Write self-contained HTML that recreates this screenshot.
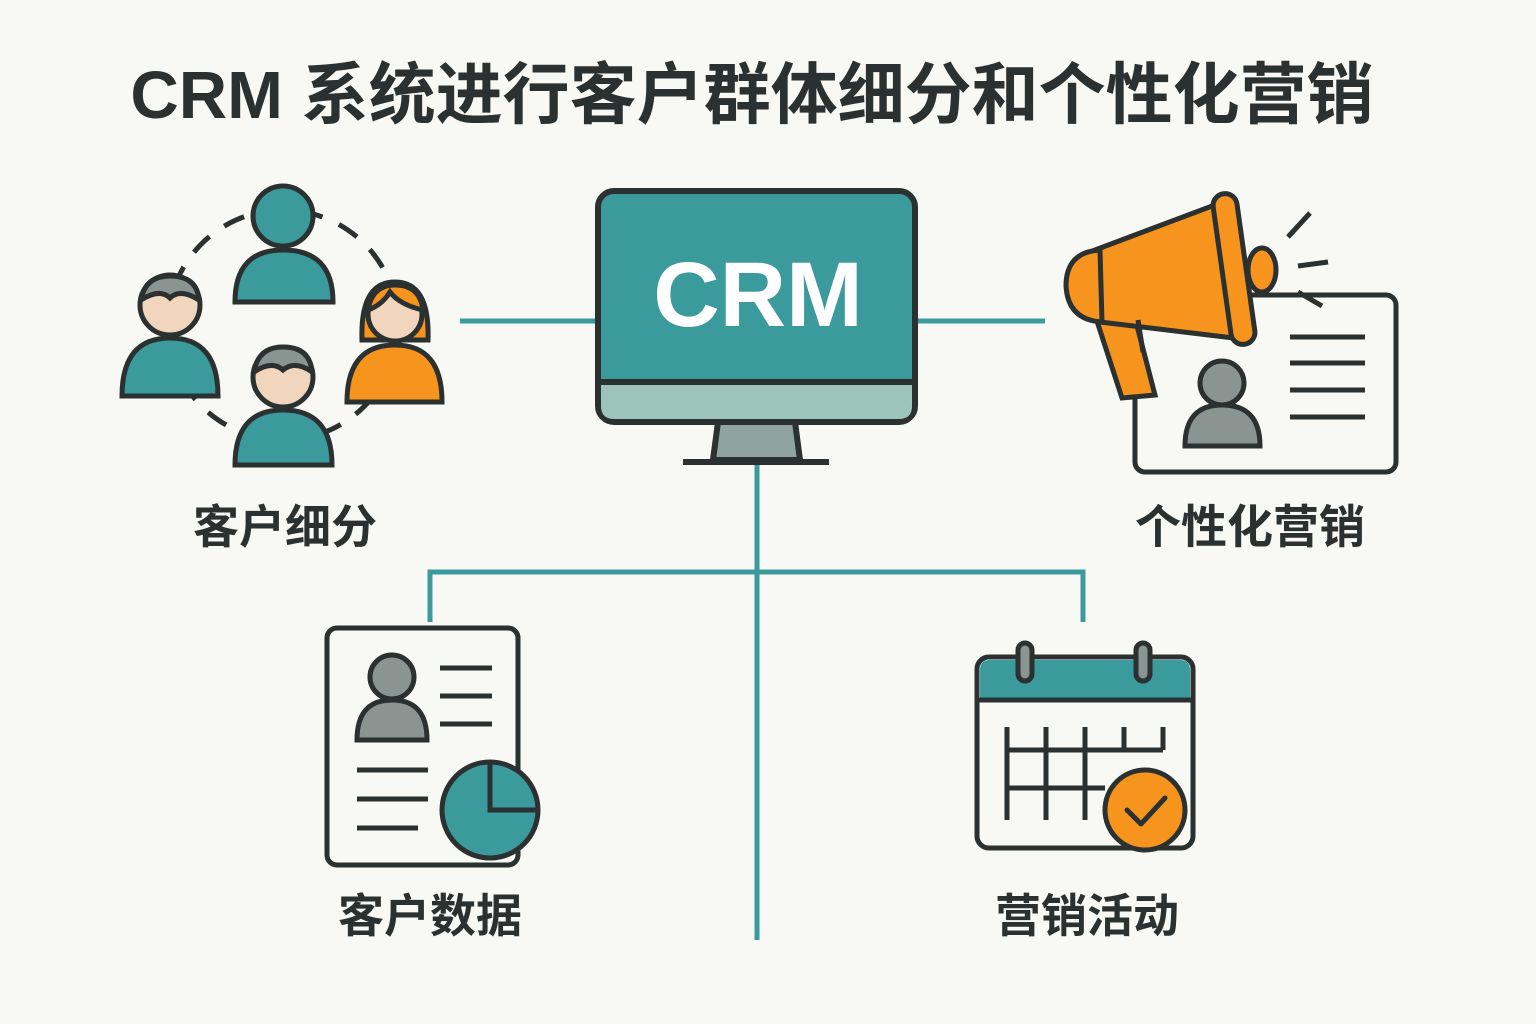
<!DOCTYPE html>
<html><head><meta charset="utf-8"><style>
html,body{margin:0;padding:0;background:#f8f8f4;}
svg{display:block}
text{font-family:"Liberation Sans","Noto Sans CJK SC",sans-serif;font-weight:bold;fill:#2b3030}
</style></head><body>
<svg width="1536" height="1024" viewBox="0 0 1536 1024" xmlns="http://www.w3.org/2000/svg">
<rect width="1536" height="1024" fill="#f8f8f4"/>
<text x="752" y="118" font-size="67" text-anchor="middle">CRM 系统进行客户群体细分和个性化营销</text>

<g stroke="#3a9a9c" stroke-width="5" fill="none">
<line x1="460" y1="321" x2="598" y2="321"/>
<line x1="915" y1="321" x2="1045" y2="321"/>
<line x1="757" y1="462" x2="757" y2="940"/>
<polyline points="430,622 430,572 1083,572 1083,622"/>
</g>

<!-- monitor -->
<g stroke="#2b3030" stroke-width="6">
<path d="M718 422 L795 422 L800 460 L713 460 Z" fill="#8fa3a0"/>
<line x1="683" y1="462" x2="829" y2="462"/>
<rect x="598" y="191" width="317" height="231" rx="16" fill="#3a9a9c"/>
<path d="M601 382 H912 V406 Q912 419 899 419 H614 Q601 419 601 406 Z" fill="#9cc4b8" stroke="none"/>
<line x1="601" y1="382" x2="912" y2="382"/>
</g>
<text x="758" y="326" font-size="92" text-anchor="middle" style="fill:#fff">CRM</text>

<!-- customer segmentation -->
<g stroke="#2b3030" stroke-width="5">
<circle cx="283" cy="325" r="115" fill="none" stroke-dasharray="22 18"/>
</g>
<g stroke="#2b3030" stroke-width="5">
<path d="M235 302 Q235 250 283 250 Q333 250 333 302 Z" fill="#3a9a9c"/>
<circle cx="283" cy="216" r="30" fill="#3a9a9c"/>
<path d="M122 396 Q122 338 170 338 Q218 338 218 396 Z" fill="#3a9a9c"/>
<circle cx="170" cy="305" r="30" fill="#f1d5bd"/>
<path d="M141 300 Q145 276 170 276 Q197 276 199 300 Q180 288 170 298 Q160 288 141 300 Z" fill="#8a9592"/>
<path d="M235 465 Q235 410 283 410 Q332 410 332 465 Z" fill="#3a9a9c"/>
<circle cx="283" cy="377" r="30" fill="#f1d5bd"/>
<path d="M254 372 Q258 347 283 347 Q310 347 312 372 Q295 360 283 370 Q272 360 254 372 Z" fill="#8a9592"/>
<path d="M347 402 Q347 345 395 345 Q442 345 442 402 Z" fill="#f7941d"/>
<path d="M362 340 Q360 282 395 282 Q430 282 428 340 Z" fill="#f7941d"/>
<circle cx="395" cy="314" r="27" fill="#f1d5bd"/>
<path d="M368 310 Q372 285 395 285 Q420 285 423 310 Q400 305 390 292 Q382 305 368 310 Z" fill="#f7941d"/>
</g>
<text x="285" y="543" font-size="46" text-anchor="middle">客户细分</text>

<!-- megaphone + card -->
<g stroke="#2b3030" stroke-width="5">
<rect x="1135" y="295" width="261" height="177" rx="10" fill="#f8f8f4"/>
<path d="M1185 446 Q1185 405 1222 405 Q1260 405 1260 446 Z" fill="#8a9592"/>
<circle cx="1222" cy="383" r="22" fill="#8a9592"/>
<g fill="none">
<line x1="1290" y1="337" x2="1365" y2="337"/>
<line x1="1290" y1="363" x2="1365" y2="363"/>
<line x1="1290" y1="390" x2="1365" y2="390"/>
<line x1="1290" y1="417" x2="1365" y2="417"/>
<line x1="1288" y1="237" x2="1310" y2="213"/>
<line x1="1298" y1="266" x2="1328" y2="262"/>
<line x1="1298" y1="292" x2="1322" y2="306"/>
</g>
<path d="M1095 315 L1135 318 L1155 395 L1122 398 Z" fill="#f7941d"/>
<path d="M1095 250 L1228 200 L1250 340 L1100 322 Z" fill="#f7941d"/>
<path d="M1100 250 Q1066 252 1066 286 Q1068 320 1102 322 Z" fill="#f7941d"/>
<rect x="1222" y="193" width="24" height="152" rx="12" fill="#f7941d" transform="rotate(-8 1234 269)"/>
<ellipse cx="1262" cy="270" rx="14" ry="22" fill="#f7941d"/>
<line x1="1138" y1="320" x2="1143" y2="352"/>
</g>
<text x="1250" y="543" font-size="46" text-anchor="middle">个性化营销</text>

<!-- customer data doc -->
<g stroke="#2b3030" stroke-width="5">
<rect x="327" y="628" width="191" height="237" rx="10" fill="#f8f8f4"/>
<path d="M357 740 Q357 700 392 700 Q427 700 427 740 Z" fill="#8a9592"/>
<circle cx="392" cy="677" r="22" fill="#8a9592"/>
<g fill="none">
<line x1="440" y1="668" x2="492" y2="668"/>
<line x1="440" y1="696" x2="492" y2="696"/>
<line x1="440" y1="724" x2="492" y2="724"/>
<line x1="357" y1="770" x2="428" y2="770"/>
<line x1="357" y1="799" x2="428" y2="799"/>
<line x1="357" y1="828" x2="418" y2="828"/>
</g>
<circle cx="490" cy="810" r="48" fill="#3a9a9c"/>
<path d="M490 762 V810 H538" fill="none"/>
</g>
<text x="430" y="932" font-size="46" text-anchor="middle">客户数据</text>

<!-- calendar -->
<g stroke="#2b3030" stroke-width="5">
<rect x="977" y="657" width="216" height="191" rx="12" fill="#f8f8f4"/>
<path d="M980 700 V670 Q980 660 990 660 H1180 Q1190 660 1190 670 V700 Z" fill="#3a9a9c" stroke="none"/>
<line x1="977" y1="700" x2="1193" y2="700"/>
<rect x="1018" y="643" width="14" height="38" rx="7" fill="#8a9592"/>
<rect x="1136" y="643" width="14" height="38" rx="7" fill="#8a9592"/>
<g fill="none">
<line x1="1007" y1="727" x2="1007" y2="820"/>
<line x1="1046" y1="727" x2="1046" y2="820"/>
<line x1="1085" y1="727" x2="1085" y2="820"/>
<line x1="1124" y1="727" x2="1124" y2="750"/>
<line x1="1163" y1="727" x2="1163" y2="750"/>
<line x1="1007" y1="750" x2="1163" y2="750"/>
<line x1="1007" y1="788" x2="1105" y2="788"/>
</g>
<circle cx="1145" cy="810" r="40" fill="#f7941d"/>
<polyline points="1127,810 1141,824 1165,798" fill="none" stroke-linecap="round" stroke-linejoin="round"/>
</g>
<text x="1087" y="932" font-size="46" text-anchor="middle">营销活动</text>
</svg>
</body></html>
